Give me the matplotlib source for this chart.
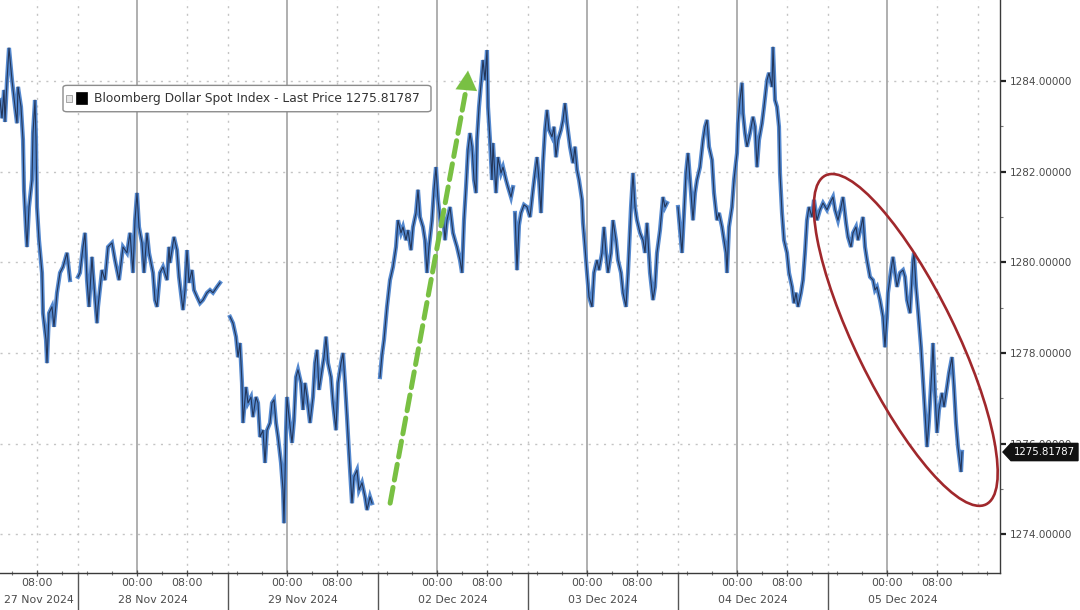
import numpy as np
import matplotlib
matplotlib.use("Agg")
import matplotlib.pyplot as plt
from matplotlib.patches import Ellipse, Polygon, Rectangle, FancyBboxPatch
from matplotlib.transforms import IdentityTransform, blended_transform_factory

# time axis: trading hours, 0 = 27 Nov 00:00, weekend collapsed (02 Dec follows 29 Nov)
DAY_LABELS = ["27 Nov 2024", "28 Nov 2024", "29 Nov 2024", "02 Dec 2024",
              "03 Dec 2024", "04 Dec 2024", "05 Dec 2024"]
SESSION_START = 14.6          # hour of day where each Bloomberg session begins
LAST_PRICE = 1275.81787

# --- Bloomberg Dollar Spot Index, intraday -----------------------------------
t_27nov = [2.08, 2.40, 2.72, 2.88, 3.20, 3.52, 4.00, 4.48, 4.80, 4.96, 5.44, 5.76,
           5.92, 6.24, 6.40, 6.72, 7.20, 7.36, 7.68, 7.84, 8.00, 8.32, 8.80, 8.96,
           9.44, 9.60, 9.92, 10.40, 10.72, 11.20, 11.68, 12.16, 12.80, 13.28]
v_27nov = [1283.58, 1283.18, 1283.80, 1283.10, 1284.02, 1284.73, 1284.02, 1283.43,
           1283.07, 1283.87, 1283.43, 1282.70, 1281.60, 1280.71, 1280.34, 1281.22,
           1281.82, 1282.85, 1283.58, 1282.70, 1281.22, 1280.49, 1279.77, 1278.88,
           1278.29, 1277.78, 1278.88, 1279.02, 1278.58, 1279.33, 1279.77, 1279.90,
           1280.21, 1279.61]

t_28nov = [14.56, 14.88, 15.36, 15.68, 16.00, 16.32, 16.80, 16.96, 17.60, 17.76,
           18.40, 18.88, 19.36, 20.00, 20.48, 21.12, 21.76, 22.40, 22.88, 23.36,
           23.68, 24.00, 24.32, 24.80, 25.12, 25.60, 25.92, 26.56, 26.88, 27.20,
           27.68, 28.16, 28.80, 29.12, 29.28, 29.92, 30.40, 30.72, 31.36, 31.68,
           32.00, 32.32, 32.80, 33.12, 33.60, 34.08, 34.56, 35.20, 35.68, 36.16,
           36.80, 37.28]
v_28nov = [1279.68, 1279.77, 1280.34, 1280.65, 1279.61, 1279.02, 1280.12, 1279.77, 1278.66, 1279.02,
           1279.83, 1279.61, 1280.34, 1280.43, 1280.05, 1279.61, 1280.34, 1280.21, 1280.65, 1279.77,
           1280.93, 1281.53, 1280.78, 1280.43, 1279.77, 1280.65, 1280.21, 1279.77, 1279.17, 1279.02,
           1279.77, 1279.90, 1279.61, 1280.34, 1279.99, 1280.56, 1280.27, 1279.68, 1278.95, 1279.39,
           1280.27, 1279.55, 1279.83, 1279.39, 1279.24, 1279.10, 1279.17, 1279.33, 1279.39, 1279.33,
           1279.46, 1279.55]

t_29nov = [38.88, 39.36, 39.84, 40.16, 40.48, 40.80, 40.96, 41.44, 41.76, 42.24,
           42.56, 43.04, 43.36, 43.68, 44.16, 44.48, 44.80, 45.28, 45.60, 45.92,
           46.24, 46.56, 47.04, 47.36, 47.52, 47.84, 48.00, 48.32, 48.80, 49.12,
           49.44, 49.76, 50.24, 50.56, 50.88, 51.20, 51.68, 52.16, 52.48, 52.80,
           53.12, 53.60, 53.92, 54.24, 54.56, 55.04, 55.36, 55.84, 56.16, 56.64,
           56.96, 57.28, 57.60, 57.92, 58.40, 58.72, 59.20, 59.52, 60.00, 60.48,
           60.80, 61.28, 61.60]
v_29nov = [1278.80, 1278.66, 1278.36, 1277.91, 1278.22, 1277.34, 1276.46, 1277.25, 1276.90, 1277.03,
           1276.59, 1277.03, 1276.90, 1276.15, 1276.30, 1275.58, 1276.30, 1276.46, 1276.90, 1276.97,
           1276.46, 1276.15, 1275.58, 1274.98, 1274.25, 1276.30, 1277.03, 1276.59, 1276.02, 1276.52,
           1277.47, 1277.63, 1277.34, 1276.75, 1277.34, 1277.03, 1276.46, 1277.03, 1277.78, 1278.07,
           1277.19, 1277.63, 1277.91, 1278.36, 1277.78, 1277.47, 1276.90, 1276.30, 1277.34, 1277.78,
           1278.00, 1277.34, 1276.59, 1275.80, 1274.69, 1275.27, 1275.42, 1274.98, 1275.14, 1274.83,
           1274.54, 1274.83, 1274.69]

t_02dec = [62.88, 63.20, 63.52, 64.00, 64.48, 64.96, 65.44, 65.76, 66.24, 66.56,
           67.04, 67.36, 67.84, 68.16, 68.64, 68.96, 69.28, 69.76, 70.08, 70.40,
           70.72, 71.20, 71.52, 71.84, 72.16, 72.64, 72.96, 73.28, 73.60, 74.08,
           74.56, 74.88, 75.20, 75.68, 76.00, 76.32, 76.64, 76.96, 77.28, 77.60,
           77.92, 78.24, 78.40, 78.72, 79.20, 79.36, 79.68, 80.00, 80.16, 80.48,
           80.80, 80.96, 81.44, 81.76, 82.24, 82.56, 83.04, 83.36, 83.84, 84.16]
v_02dec = [1277.47, 1277.96, 1278.29, 1279.02, 1279.61, 1279.90, 1280.34, 1280.93, 1280.65, 1280.78,
           1280.49, 1280.71, 1280.27, 1280.78, 1281.09, 1281.60, 1281.00, 1280.78, 1280.49, 1279.77,
           1280.34, 1280.93, 1281.60, 1282.10, 1281.38, 1280.78, 1281.09, 1280.49, 1280.93, 1281.22,
           1280.65, 1280.49, 1280.34, 1280.05, 1279.77, 1280.93, 1281.66, 1282.48, 1282.85, 1282.55,
           1281.82, 1281.53, 1282.70, 1283.43, 1284.18, 1284.46, 1284.02, 1284.68, 1283.43, 1282.70,
           1281.82, 1282.63, 1281.53, 1282.32, 1281.97, 1282.10, 1281.82, 1281.66, 1281.44, 1281.66]

t_03dec = [84.48, 84.80, 85.12, 85.44, 85.92, 86.40, 86.88, 87.36, 87.68, 88.00,
           88.32, 88.64, 88.96, 89.28, 89.60, 89.92, 90.40, 90.72, 91.04, 91.36,
           91.84, 92.16, 92.48, 92.80, 93.28, 93.76, 94.08, 94.40, 94.72, 95.20,
           95.36, 95.68, 96.00, 96.32, 96.80, 97.12, 97.60, 97.92, 98.40, 98.72,
           99.04, 99.36, 99.84, 100.16, 100.64, 100.96, 101.44, 101.76, 102.24, 102.56,
           103.04, 103.36, 103.68, 104.00, 104.48, 104.96, 105.28, 105.60, 106.08, 106.56,
           106.88, 107.20, 107.68, 108.16, 108.48, 108.80]
v_03dec = [1281.09, 1279.83, 1280.82, 1281.09, 1281.27, 1281.22, 1281.00, 1281.60, 1281.97, 1282.32,
           1281.82, 1281.09, 1282.19, 1282.92, 1283.36, 1282.92, 1282.77, 1282.99, 1282.32, 1282.70,
           1282.92, 1283.14, 1283.51, 1283.07, 1282.55, 1282.19, 1282.55, 1282.04, 1281.82, 1281.38,
           1280.87, 1280.34, 1279.77, 1279.24, 1279.02, 1279.77, 1280.05, 1279.83, 1280.21, 1280.78,
           1280.21, 1279.77, 1280.21, 1280.93, 1280.49, 1280.05, 1279.77, 1279.33, 1279.02, 1279.77,
           1281.22, 1281.97, 1281.22, 1280.93, 1280.65, 1280.49, 1280.21, 1280.87, 1279.77, 1279.17,
           1279.46, 1280.21, 1280.71, 1281.44, 1281.22, 1281.31]

t_04dec = [110.56, 110.88, 111.20, 111.52, 111.84, 112.16, 112.64, 112.96, 113.28, 113.60,
           114.08, 114.56, 114.88, 115.20, 115.52, 116.00, 116.32, 116.80, 117.12, 117.60,
           117.92, 118.24, 118.40, 118.72, 119.20, 119.52, 120.00, 120.16, 120.48, 120.80,
           120.96, 121.28, 121.60, 122.08, 122.56, 122.88, 123.20, 123.52, 124.00, 124.32,
           124.80, 125.12, 125.60, 125.76, 126.08, 126.40, 126.72]
v_04dec = [1281.22, 1280.71, 1280.21, 1281.09, 1281.97, 1282.41, 1281.53, 1280.93, 1281.53, 1281.82,
           1282.10, 1282.70, 1282.99, 1283.14, 1282.55, 1282.26, 1281.53, 1280.93, 1281.09, 1280.78,
           1280.49, 1280.21, 1279.77, 1280.78, 1281.22, 1281.82, 1282.41, 1283.07, 1283.58, 1283.96,
           1283.29, 1282.85, 1282.55, 1282.85, 1283.21, 1282.99, 1282.10, 1282.70, 1283.07, 1283.43,
           1284.02, 1284.18, 1283.87, 1284.75, 1283.58, 1283.43, 1282.99]

t_05dec = [126.88, 127.20, 127.52, 128.00, 128.32, 128.80, 129.12, 129.44, 129.76, 130.24,
           130.56, 130.88, 131.20, 131.52, 132.00, 132.32, 132.80, 133.28, 133.76, 134.40,
           134.88, 135.36, 135.68, 136.16, 136.64, 136.96, 137.44, 137.76, 138.24, 138.56,
           139.04, 139.36, 139.84, 140.16, 140.48, 140.80, 141.28, 141.76, 142.08, 142.40,
           142.88, 143.36, 143.68, 144.00, 144.16, 144.64, 144.96, 145.28, 145.60, 146.08,
           146.56, 146.88, 147.20, 147.68, 148.16, 148.32, 148.64, 148.96, 149.44, 149.76,
           150.08, 150.40, 150.72, 151.20, 151.36, 151.68, 152.00, 152.32, 152.80, 153.12,
           153.60, 153.92, 154.40, 154.72, 155.04, 155.36, 155.84, 156.00]
v_05dec = [1281.97, 1281.09, 1280.49, 1280.21, 1279.77, 1279.46, 1279.10, 1279.33, 1279.02, 1279.33,
           1279.61, 1280.21, 1280.93, 1281.22, 1281.00, 1281.38, 1280.93, 1281.16, 1281.31, 1281.16,
           1281.31, 1281.44, 1281.16, 1280.93, 1281.22, 1281.44, 1280.87, 1280.56, 1280.34, 1280.65,
           1280.78, 1280.49, 1280.78, 1281.00, 1280.34, 1280.05, 1279.68, 1279.61, 1279.39, 1279.46,
           1279.17, 1278.80, 1278.13, 1278.80, 1279.33, 1279.83, 1280.12, 1279.77, 1279.46, 1279.77,
           1279.83, 1279.68, 1279.17, 1278.88, 1280.05, 1280.21, 1279.46, 1278.95, 1278.13, 1277.41,
           1276.68, 1275.93, 1276.52, 1277.69, 1278.22, 1277.12, 1276.24, 1276.75, 1277.12, 1276.81,
           1277.25, 1277.56, 1277.91, 1277.25, 1276.46, 1275.93, 1275.38, 1275.82]

sessions = [
    (t_27nov, v_27nov),
    (t_28nov, v_28nov),
    (t_29nov, v_29nov),
    (t_02dec, v_02dec),
    (t_03dec, v_03dec),
    (t_04dec + t_05dec, v_04dec + v_05dec),   # no break between these two
]

# annotations (data coords)
arrow_start = (64.5, 1274.69)
arrow_end = (77.0, 1284.29)
ellipse_centre = (147.0, 1278.29)

FONT = ["DejaVu Sans"]
GRID = "#c4c4c4"
TXT = "#4a4a4a"

plt.rcParams["font.family"] = FONT

fig = plt.figure(figsize=(10.8, 6.1), dpi=100)
ax = fig.add_axes([0.0, 37 / 610, 1000 / 1080, 573 / 610])
ax.set_xlim(2.08, 162.08)
ax.set_ylim(1273.15, 1285.786)

# gridlines
for y in range(1274, 1285, 2):
    ax.axhline(y, color=GRID, lw=1.0, ls=(0, (1.5, 4)), zorder=0)
for d in range(0, 7):
    ax.axvline(24 * d, color="#a9a9a9", lw=1.3, zorder=0)
    ax.axvline(24 * d + 8, color=GRID, lw=1.0, ls=(0, (1.5, 4)), zorder=0)
    ax.axvline(24 * d + SESSION_START, color=GRID, lw=1.0, ls=(0, (1.5, 4)), zorder=0)

# price line: blue band with a dark tick trace on top
for t, v in sessions:
    ax.plot(t, v, color="#5589cf", lw=3.0, solid_joinstyle="miter", zorder=3)
    ax.plot(t, v, color="#16203a", lw=0.8, alpha=0.8, zorder=4)

# axes styling
for s in ("left", "top"):
    ax.spines[s].set_visible(False)
for s in ("right", "bottom"):
    ax.spines[s].set_color("#3a3a3a")
    ax.spines[s].set_linewidth(1.0)

ax.yaxis.tick_right()
ax.set_yticks(range(1274, 1285, 2))
ax.set_yticklabels([f"{y:.5f}" for y in range(1274, 1285, 2)])
ax.set_yticks(range(1275, 1285, 2), minor=True)
ax.tick_params(axis="y", which="major", length=4, width=1.6, color="#222222",
               labelsize=7.5, labelcolor=TXT, pad=3)
ax.tick_params(axis="y", which="minor", length=2, width=0.8, color="#777777")

major_x, major_lbl = [8], ["08:00"]
for d in range(1, 7):
    major_x += [24 * d, 24 * d + 8]
    major_lbl += ["00:00", "08:00"]
ax.set_xticks(major_x)
ax.set_xticklabels(major_lbl)
ax.set_xticks(np.arange(4, 162, 4), minor=True)
ax.tick_params(axis="x", which="major", direction="inout", length=5, width=0.9,
               color="#555555", labelsize=7.8, labelcolor=TXT, pad=1)
ax.tick_params(axis="x", which="minor", direction="inout", length=3, width=0.8,
               color="#777777")

# day labels and separators below the axis
bx = blended_transform_factory(ax.transData, ax.transAxes)
date_centres = [8.3] + [24 * d + 2.6 for d in range(1, 7)]
for xc, lbl in zip(date_centres, DAY_LABELS):
    ax.text(xc, -0.047, lbl, transform=bx, ha="center", va="center",
            fontsize=7.8, color=TXT, clip_on=False)
for d in range(0, 6):
    xs = 24 * d + SESSION_START
    ax.plot([xs, xs], [0, -0.07], transform=bx, color="#555555", lw=1.0,
            clip_on=False)

# legend box
ax.add_patch(FancyBboxPatch((0.063, 0.805), 0.368, 0.046, transform=ax.transAxes,
                            boxstyle="round,pad=0,rounding_size=0.004",
                            fc="white", ec="#8c8c8c", lw=1.0, zorder=6))
ax.add_patch(Rectangle((0.066, 0.822), 0.006, 0.013, transform=ax.transAxes,
                       fc="#e6e6e6", ec="#9a9a9a", lw=0.6, zorder=7))
ax.add_patch(Rectangle((0.076, 0.818), 0.011, 0.021, transform=ax.transAxes,
                       fc="black", ec="black", lw=0.5, zorder=7))
ax.text(0.094, 0.828, "Bloomberg Dollar Spot Index - Last Price 1275.81787",
        transform=ax.transAxes, ha="left", va="center", fontsize=8.8,
        color="#333333", zorder=7)

# last price tag on the right axis
by = ax.get_yaxis_transform()
h = 0.19
tag = Polygon([(1.003, LAST_PRICE), (1.011, LAST_PRICE + h), (1.078, LAST_PRICE + h),
               (1.078, LAST_PRICE - h), (1.011, LAST_PRICE - h)],
              closed=True, transform=by, fc="#111111", ec="#111111",
              clip_on=False, zorder=8)
ax.add_patch(tag)
ax.text(1.0445, LAST_PRICE, f"{LAST_PRICE:.5f}", transform=by, ha="center",
        va="center", fontsize=7.3, color="white", clip_on=False, zorder=9)

# green dashed arrow
ax.plot([arrow_start[0], arrow_end[0] - 0.25], [arrow_start[1], arrow_end[1] - 0.4],
        color="#79c043", lw=3.6, ls=(0, (3.2, 1.5)), solid_capstyle="round",
        dash_capstyle="round", zorder=5)
ax.annotate("", xy=arrow_end, xytext=(arrow_end[0] - 0.5, arrow_end[1] - 0.8),
            arrowprops=dict(arrowstyle="-|>,head_length=1.0,head_width=0.55",
                            color="#79c043", lw=0.1, mutation_scale=14), zorder=5)

# red ellipse around the 05 Dec slide
fig.canvas.draw()
cx, cy = ax.transData.transform(ellipse_centre)
ax.add_patch(Ellipse((cx, cy), 366, 100, angle=-64, transform=IdentityTransform(),
                     fill=False, ec="#a0282c", lw=1.9, zorder=6))

fig.savefig("out.png", dpi=100)
